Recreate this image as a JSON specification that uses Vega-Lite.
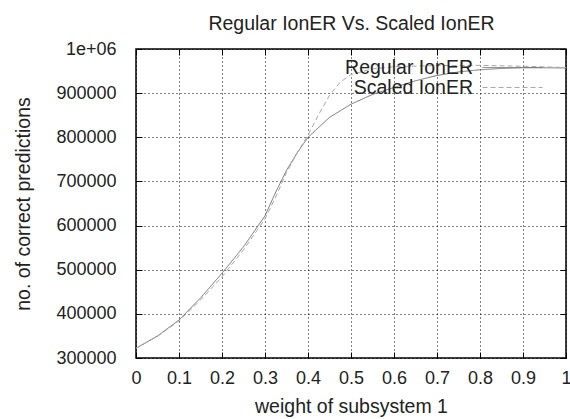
{
  "$schema": "https://vega.github.io/schema/vega-lite/v6.json",
  "autosize": {"type": "none"},
  "width": 430,
  "height": 309,
  "padding": {"left": 136, "top": 49, "right": 4, "bottom": 61},
  "background": "white",
  "config": {
    "font": "Liberation Sans",
    "view": {"stroke": "black", "strokeWidth": 1.5},
    "axis": {
      "domain": false,
      "ticks": true,
      "tickColor": "black",
      "tickSize": -6,
      "tickWidth": 1,
      "grid": true,
      "gridColor": "black",
      "gridDash": [1, 3],
      "gridWidth": 1,
      "gridOpacity": 1,
      "labelFont": "Liberation Sans",
      "labelFontSize": 18,
      "labelColor": "#222",
      "titleFont": "Liberation Sans",
      "titleFontSize": 19.5,
      "titleFontWeight": "normal",
      "titleColor": "#222"
    }
  },
  "data": {
    "values": [
      {"w": 0.0, "n": 322000, "series": "Regular IonER"},
      {"w": 0.05, "n": 350000, "series": "Regular IonER"},
      {"w": 0.1, "n": 386000, "series": "Regular IonER"},
      {"w": 0.15, "n": 436000, "series": "Regular IonER"},
      {"w": 0.2, "n": 492000, "series": "Regular IonER"},
      {"w": 0.25, "n": 552000, "series": "Regular IonER"},
      {"w": 0.3, "n": 622000, "series": "Regular IonER"},
      {"w": 0.325, "n": 676000, "series": "Regular IonER"},
      {"w": 0.35, "n": 725000, "series": "Regular IonER"},
      {"w": 0.375, "n": 765000, "series": "Regular IonER"},
      {"w": 0.4, "n": 800000, "series": "Regular IonER"},
      {"w": 0.45, "n": 845000, "series": "Regular IonER"},
      {"w": 0.5, "n": 875000, "series": "Regular IonER"},
      {"w": 0.55, "n": 897000, "series": "Regular IonER"},
      {"w": 0.6, "n": 913000, "series": "Regular IonER"},
      {"w": 0.65, "n": 928000, "series": "Regular IonER"},
      {"w": 0.7, "n": 940000, "series": "Regular IonER"},
      {"w": 0.75, "n": 948000, "series": "Regular IonER"},
      {"w": 0.8, "n": 953000, "series": "Regular IonER"},
      {"w": 0.85, "n": 956000, "series": "Regular IonER"},
      {"w": 0.9, "n": 957500, "series": "Regular IonER"},
      {"w": 0.95, "n": 957500, "series": "Regular IonER"},
      {"w": 1.0, "n": 957000, "series": "Regular IonER"},
      {"w": 0.0, "n": 322000, "series": "Scaled IonER"},
      {"w": 0.05, "n": 349000, "series": "Scaled IonER"},
      {"w": 0.1, "n": 384000, "series": "Scaled IonER"},
      {"w": 0.15, "n": 431000, "series": "Scaled IonER"},
      {"w": 0.2, "n": 484000, "series": "Scaled IonER"},
      {"w": 0.25, "n": 545000, "series": "Scaled IonER"},
      {"w": 0.3, "n": 615000, "series": "Scaled IonER"},
      {"w": 0.325, "n": 665000, "series": "Scaled IonER"},
      {"w": 0.35, "n": 720000, "series": "Scaled IonER"},
      {"w": 0.375, "n": 765000, "series": "Scaled IonER"},
      {"w": 0.4, "n": 805000, "series": "Scaled IonER"},
      {"w": 0.425, "n": 852000, "series": "Scaled IonER"},
      {"w": 0.45, "n": 895000, "series": "Scaled IonER"},
      {"w": 0.475, "n": 925000, "series": "Scaled IonER"},
      {"w": 0.5, "n": 942000, "series": "Scaled IonER"},
      {"w": 0.55, "n": 955000, "series": "Scaled IonER"},
      {"w": 0.6, "n": 960000, "series": "Scaled IonER"},
      {"w": 0.7, "n": 962500, "series": "Scaled IonER"},
      {"w": 0.8, "n": 963000, "series": "Scaled IonER"},
      {"w": 0.9, "n": 961000, "series": "Scaled IonER"},
      {"w": 1.0, "n": 958000, "series": "Scaled IonER"}
    ]
  },
  "layer": [
    {
      "mark": {"type": "line", "strokeWidth": 1, "clip": true},
      "encoding": {
        "x": {
          "field": "w", "type": "quantitative",
          "scale": {"domain": [0, 1], "nice": false, "zero": false},
          "axis": {
            "orient": "bottom",
            "title": "weight of subsystem 1",
            "values": [0, 0.1, 0.2, 0.3, 0.4, 0.5, 0.6, 0.7, 0.8, 0.9, 1],
            "format": "~g",
            "labelFontSize": 18,
            "labelPadding": 17,
            "titlePadding": 10,
            "labelFlush": false
          }
        },
        "y": {
          "field": "n", "type": "quantitative",
          "scale": {"domain": [300000, 1000000], "nice": false, "zero": false},
          "axis": {
            "orient": "left",
            "title": "no. of correct predictions",
            "values": [300000, 400000, 500000, 600000, 700000, 800000, 900000, 1000000],
            "labelExpr": "datum.value >= 1000000 ? '1e+06' : format(datum.value, 'd')",
            "labelFontSize": 18,
            "labelPadding": 26,
            "titlePadding": 22,
            "labelFlush": false
          }
        },
        "color": {
          "field": "series", "type": "nominal",
          "scale": {"domain": ["Regular IonER", "Scaled IonER"], "range": ["#707070", "#a8a8a8"]},
          "legend": {
            "orient": "none",
            "legendX": 366,
            "legendY": 8,
            "title": null,
            "padding": 0,
            "symbolType": "M-3,0H3",
            "symbolSize": 400,
            "symbolStrokeWidth": 1,
            "symbolFillColor": "transparent",
            "labelAlign": "right",
            "labelOffset": -50,
            "labelBaseline": "middle",
            "labelFont": "Liberation Sans",
            "labelFontSize": 19.5,
            "labelColor": "#222",
            "labelLimit": 300,
            "rowPadding": 0
          }
        },
        "strokeDash": {
          "field": "series", "type": "nominal",
          "scale": {"domain": ["Regular IonER", "Scaled IonER"], "range": [[1, 0], [5, 3]]},
          "legend": null
        }
      }
    },
    {
      "mark": {"type": "line", "opacity": 0},
      "encoding": {
        "x": {
          "field": "w", "type": "quantitative",
          "axis": {"orient": "top", "title": "Regular IonER Vs. Scaled IonER",
                   "titleBaseline": "alphabetic", "titlePadding": 19,
                   "labels": false, "grid": false,
                   "values": [0, 0.1, 0.2, 0.3, 0.4, 0.5, 0.6, 0.7, 0.8, 0.9, 1]}
        },
        "y": {
          "field": "n", "type": "quantitative",
          "axis": {"orient": "right", "title": null, "labels": false, "grid": false,
                   "values": [300000, 400000, 500000, 600000, 700000, 800000, 900000, 1000000]}
        },
        "detail": {"field": "series", "type": "nominal"}
      }
    }
  ],
  "resolve": {"axis": {"x": "independent", "y": "independent"}}
}
